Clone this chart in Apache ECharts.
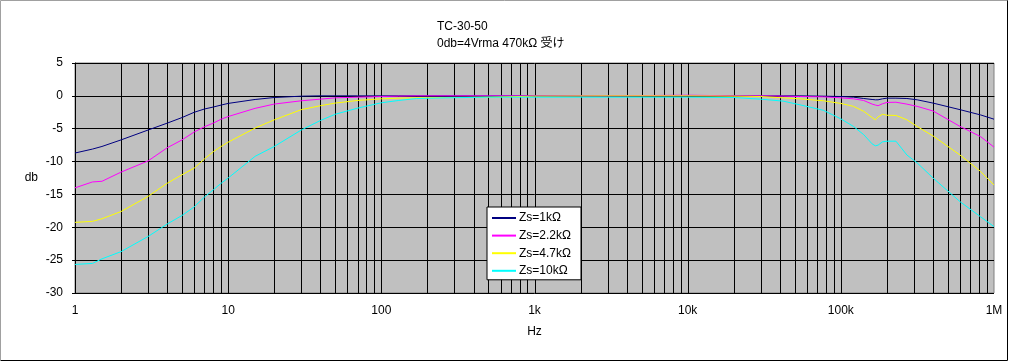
<!DOCTYPE html>
<html>
<head>
<meta charset="utf-8">
<script src="https://cdn.jsdelivr.net/npm/echarts@6/dist/echarts.min.js"></script>
<style>
html,body{margin:0;padding:0;background:#fff;}
#c{width:1009px;height:361px;}
</style>
</head>
<body>
<div id="c"></div>
<script>
// ---- data ----
const freqs = [1, 1.3, 1.5, 2, 3, 4, 5, 6, 7, 8, 9, 10, 15, 20, 30, 40, 50, 70, 100, 130, 170, 260, 500, 1000, 3000, 10000, 20000, 30000, 42000, 54000, 77000, 100000, 121000, 141000, 160000, 168000, 175000, 187000, 200000, 229000, 270000, 315000, 400000, 600000, 817000, 1000000];
const z1k  = [-8.7, -8.1, -7.7, -6.7, -5.2, -4.15, -3.3, -2.5, -2.0, -1.7, -1.4, -1.15, -0.55, -0.25, -0.05, 0, 0, 0, 0, 0, 0, 0, 0, 0, 0, 0, 0, 0, 0, 0, -0.05, -0.1, -0.2, -0.4, -0.55, -0.6, -0.6, -0.45, -0.35, -0.35, -0.4, -0.6, -1.1, -2.1, -2.9, -3.55];
const z2k2 = [-14.0, -13.1, -13.0, -11.6, -9.9, -7.9, -6.7, -5.5, -4.7, -4.15, -3.55, -3.15, -1.9, -1.25, -0.75, -0.5, -0.3, -0.2, -0.1, -0.05, 0, 0, 0, 0, 0, 0.1, 0, 0, -0.05, -0.1, -0.15, -0.3, -0.45, -0.7, -1.25, -1.4, -1.5, -1.2, -1.0, -0.97, -1.26, -1.6, -2.3, -4.65, -6.2, -7.8];
const z4k7 = [-19.25, -19.1, -18.7, -17.6, -15.3, -13.3, -12.0, -11.0, -9.6, -8.5, -7.7, -7.05, -4.9, -3.65, -2.1, -1.5, -1.1, -0.7, -0.45, -0.35, -0.3, -0.25, -0.2, -0.05, 0, 0, -0.05, -0.1, -0.3, -0.45, -0.75, -1.15, -1.6, -2.35, -3.3, -3.65, -3.2, -2.8, -2.95, -2.98, -3.64, -4.66, -6.1, -9.0, -11.5, -13.55];
const z10k = [-25.65, -25.5, -24.8, -23.7, -21.4, -19.5, -18.2, -16.9, -15.4, -14.3, -13.3, -12.5, -9.2, -7.7, -5.2, -3.75, -2.8, -1.87, -1.05, -0.7, -0.4, -0.3, -0.2, -0.2, -0.2, -0.2, -0.25, -0.5, -0.8, -1.36, -2.2, -3.5, -4.66, -5.9, -7.3, -7.6, -7.5, -7.0, -6.9, -6.9, -9.0, -10.2, -12.5, -16.1, -18.4, -19.9];
const seriesNames = ['Zs=1kΩ', 'Zs=2.2kΩ', 'Zs=4.7kΩ', 'Zs=10kΩ'];
const xTickLabels = {1: '1', 10: '10', 100: '100', 1000: '1k', 10000: '10k', 100000: '100k', 1000000: '1M'};
const titleText = 'TC-30-50';
const subText = '0db=4Vrma 470kΩ 受け';

// vertical grid line positions (1..9 x decade), excluding plot edges
const vLines = [];
for (let d = 1; d <= 100000; d *= 10) {
  for (let m = 1; m <= 9; m++) {
    const v = m * d;
    if (v > 1 && v < 1000000) vLines.push([v]);
  }
}

const FONT = '"Liberation Sans", "Noto Sans CJK JP", sans-serif';
const colors = ['#000080', '#FF00FF', '#FFFF00', '#00FFFF'];
const allVals = [z1k, z2k2, z4k7, z10k];

const chart = echarts.init(document.getElementById('c'), null, {renderer: 'canvas'});

const lineSeries = allVals.map((arr, i) => ({
  name: seriesNames[i],
  type: 'line',
  data: freqs.map((f, j) => [f, arr[j]]),
  showSymbol: false,
  symbol: 'none',
  smooth: false,
  lineStyle: {color: colors[i], width: 1},
  itemStyle: {color: colors[i]},
  z: 5,
  silent: true,
  animation: false
}));

chart.setOption({
  animation: false,
  textStyle: {fontFamily: FONT},
  title: {
    text: titleText,
    subtext: subText,
    left: 432,
    top: 15,
    itemGap: 3,
    textStyle: {fontSize: 12, fontWeight: 'normal', color: '#000', fontFamily: FONT, lineHeight: 14},
    subtextStyle: {fontSize: 12, color: '#000', fontFamily: FONT, lineHeight: 14}
  },
  grid: {
    left: 75, right: 15, top: 63, bottom: 68,
    show: true,
    backgroundColor: '#C0C0C0',
    borderColor: '#808080',
    borderWidth: 1
  },
  legend: {
    orient: 'vertical',
    left: 487,
    top: 207,
    data: seriesNames.map(n => ({name: n, icon: 'rect'})),
    itemWidth: 24,
    itemHeight: 2,
    itemGap: 3.6,
    padding: [4, 10, 2, 5],
    backgroundColor: '#fff',
    borderColor: '#000',
    borderWidth: 1,
    borderRadius: 0,
    selectedMode: false,
    textStyle: {fontSize: 12, color: '#000', fontFamily: FONT, lineHeight: 14, padding: [0, 0, 0, -2]}
  },
  xAxis: {
    type: 'log',
    logBase: 10,
    min: 1,
    max: 1000000,
    name: 'Hz',
    nameLocation: 'middle',
    nameGap: 33,
    nameTextStyle: {fontSize: 12, color: '#000', fontFamily: FONT},
    axisLine: {show: true, lineStyle: {color: '#000', width: 1}},
    axisTick: {show: false},
    splitLine: {show: false},
    minorTick: {show: false},
    minorSplitLine: {show: false},
    axisLabel: {
      color: '#000', fontSize: 12, fontFamily: FONT, margin: 12,
      formatter: v => xTickLabels[Math.round(v)] !== undefined ? xTickLabels[Math.round(v)] : ''
    }
  },
  yAxis: {
    type: 'value',
    min: -30,
    max: 5,
    interval: 5,
    name: 'db',
    nameLocation: 'middle',
    nameGap: 37,
    nameRotate: 0,
    nameTextStyle: {fontSize: 12, color: '#000', fontFamily: FONT},
    axisLine: {show: true, lineStyle: {color: '#000', width: 1}},
    axisTick: {show: true, length: 3, lineStyle: {color: '#000'}},
    splitLine: {show: true, lineStyle: {color: '#000', width: 1}},
    axisLabel: {color: '#000', fontSize: 12, fontFamily: FONT, margin: 12}
  },
  graphic: [
    {type: 'polyline', shape: {points: [[0.5, 360], [0.5, 0.5], [1008, 0.5]]}, style: {stroke: '#A0A0A0', lineWidth: 1, fill: null}, silent: true},
    {type: 'polyline', shape: {points: [[1007.5, 0.5], [1007.5, 360.5], [0.5, 360.5]]}, style: {stroke: '#000', lineWidth: 1, fill: null}, silent: true}
  ],
  series: [
    {
      name: 'vgrid',
      type: 'custom',
      silent: true,
      z: 1,
      data: vLines,
      renderItem: function (params, api) {
        const v = api.value(0);
        const top = api.coord([v, 5]);
        const bot = api.coord([v, -30]);
        const x = Math.round(top[0]) + 0.5;
        return {
          type: 'line',
          shape: {x1: x, y1: top[1], x2: x, y2: bot[1]},
          style: {stroke: '#000', lineWidth: 1}
        };
      }
    }
  ].concat(lineSeries)
});
</script>
</body>
</html>
